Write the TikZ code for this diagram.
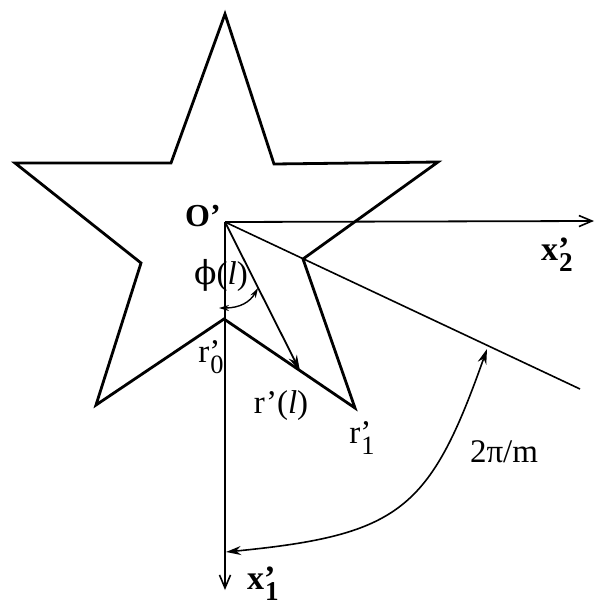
\documentclass[tikz,border=0pt]{standalone}
\usepackage{fontspec}
\setmainfont{Liberation Serif}
\newfontfamily\greekfont{DejaVu Serif}
\usepackage{tikz}
\usetikzlibrary{arrows.meta,positioning,calc}
\newcommand{\primed}[2]{#1\rlap{’}\kern0.03em\raisebox{-0.32em}{\scalebox{0.8}{#2}}}
\tikzset{
  edge/.style={line width=2.8pt, line join=miter},
  axis/.style={line width=1.8pt, -{Straight Barb[length=13pt,width=11pt,line width=1.6pt]}},
  ray/.style={line width=1.6pt},
  pointer/.style={line width=1.8pt, -{Stealth[length=16pt,width=9pt]}},
  angle/.style={line width=1.6pt, {Stealth[length=15pt,width=9pt]}-{Stealth[length=15pt,width=9pt]}},
  smallangle/.style={line width=1.4pt, {Stealth[length=10pt,width=6pt]}-{Stealth[length=10pt,width=6pt]}},
  lbl/.style={inner sep=0pt, font=\fontsize{33}{36}\selectfont},
  axlbl/.style={inner sep=0pt, font=\fontsize{34}{38}\selectfont\bfseries}
}
\begin{document}
\begin{tikzpicture}[x=1pt, y=-1pt]
  \useasboundingbox (0,0) rectangle (600,606);
  % star vertices
  \coordinate (top) at (225,14);
  \coordinate (in1) at (274,164);
  \coordinate (rtip) at (438,162);
  \coordinate (r1in) at (303,259);
  \coordinate (r1) at (355,408);
  \coordinate (r0) at (224,319);
  \coordinate (bltip) at (96,405);
  \coordinate (in4) at (141,263);
  \coordinate (ltip) at (15,163);
  \coordinate (in5) at (171,163);
  \draw[edge] (top) -- (in1) -- (rtip) -- (r1in) -- (r1) -- (r0) -- (bltip) -- (in4) -- (ltip) -- (in5) -- cycle;
  % axes and ray
  \coordinate (O) at (225,222);
  \coordinate (x2end) at (594,221);
  \coordinate (x1end) at (225,590);
  \coordinate (rayend) at (580,389);
  \draw[axis] (O) -- (x2end);
  \draw[axis] (O) -- (x1end);
  \draw[ray] (O) -- (rayend);
  % radius and angles
  \coordinate (rl) at (300,371);
  \draw[pointer] (O) -- (rl);
  \coordinate (phiA) at (219,308);
  \coordinate (phiB) at (258,288);
  \draw[smallangle] (phiA) .. controls (240,308) and (250,302) .. (phiB);
  \coordinate (arcA) at (487,349);
  \coordinate (arcB) at (226,552);
  \draw[angle] (arcA) .. controls (430,510) and (400,535) .. (arcB);
  % labels
  \node[axlbl, font=\fontsize{32}{36}\selectfont\bfseries] (Olbl) at (203,216) {O’};
  \node[lbl] (philbl) at (221,275) {{\greekfont ϕ}(\textit{l})};
  \node[lbl] (r0lbl) at (211,357) {\primed{r}{0}};
  \node[lbl] (rllbl) at (281,406) {r’(\textit{l})};
  \node[lbl] (r1lbl) at (362,438) {\primed{r}{1}};
  \node[lbl] (arclbl) at (504,452) {2π/m};
  \node[axlbl] (x1lbl) at (263,584) {\primed{x}{1}};
  \node[axlbl] (x2lbl) at (557,255) {\primed{x}{2}};
\end{tikzpicture}
\end{document}
